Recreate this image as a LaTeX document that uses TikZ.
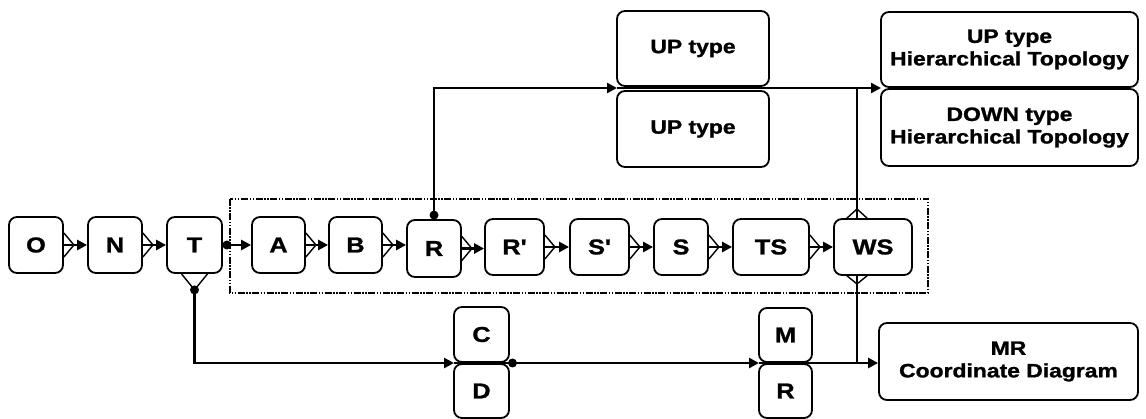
\documentclass[tikz,border=0pt]{standalone}
\usepackage{fontspec}
\setmainfont{Liberation Sans}[Ligatures=TeXOff,FakeStretch=1.18,BoldFeatures={FakeBold=1.2}]
\usetikzlibrary{arrows.meta}
\newcommand\footRt[1]{\draw[foot] (#1.east) ++(0,-12) -- ++(10,12) -- ++(-10,12);}
\begin{document}
\begin{tikzpicture}[x=1pt,y=-1pt,
  box/.style={draw,line width=1.8pt,rounded corners=8pt,fill=white,inner sep=0pt,align=center,
    font=\fontsize{21.5}{24}\selectfont\bfseries},
  wide/.style={box,font=\fontsize{19.4}{22.5}\selectfont\bfseries},
  conn/.style={line width=2.8pt},
  arr/.style={conn,-{Triangle[length=10pt,width=10pt]}},
  foot/.style={line width=1.4pt},
  dotc/.style={circle,fill,inner sep=0pt,minimum size=9pt},
  frame/.style={line width=1.1pt,dash pattern=on 7pt off 1.5pt on 1.5pt off 1.5pt on 1.5pt off 1.5pt}]
\useasboundingbox (0,0) rectangle (1146,419);
\draw[frame] (230,199) rectangle (928,293);
% chain
\node[box,minimum width=54pt,minimum height=56pt] (O) at (36,245) {O};
\node[box,minimum width=54pt,minimum height=56pt] (N) at (115,245) {N};
\node[box,minimum width=55pt,minimum height=56pt] (T) at (194.5,245) {T};
\node[box,minimum width=53pt,minimum height=56pt] (A) at (278.5,245) {A};
\node[box,minimum width=53pt,minimum height=56pt] (B) at (355.5,245) {B};
\node[box,minimum width=54pt,minimum height=57pt] (R) at (434,248.5) {R};
\node[box,minimum width=59pt,minimum height=56pt] (Rp) at (514.5,247) {R'};
\node[box,minimum width=59pt,minimum height=56pt] (Sp) at (599.5,247) {S'};
\node[box,minimum width=54pt,minimum height=56pt] (S) at (681,247) {S};
\node[box,minimum width=76pt,minimum height=56pt] (TS) at (771,247) {TS};
\node[box,minimum width=78pt,minimum height=56pt] (WS) at (873,247) {WS};
% top
\node[wide,minimum width=152pt,minimum height=75pt] (UP1) at (693,48.5) {UP type};
\node[wide,minimum width=152pt,minimum height=76pt] (UP2) at (693,129) {UP type};
\node[wide,minimum width=257pt,minimum height=75pt] (HT1) at (1009.5,49.5) {UP type\\Hierarchical Topology};
\node[wide,minimum width=257pt,minimum height=77pt] (HT2) at (1009.5,127.5) {DOWN type\\Hierarchical Topology};
% bottom
\node[box,minimum width=55pt,minimum height=55pt] (C) at (481.5,334.5) {C};
\node[box,minimum width=55pt,minimum height=54pt] (D) at (481.5,391) {D};
\node[box,minimum width=53pt,minimum height=54pt] (M) at (785.5,335) {M};
\node[box,minimum width=53pt,minimum height=54pt] (Rb) at (785.5,391) {R};
\node[wide,minimum width=259pt,minimum height=77pt] (MR) at (1008.5,361.5) {MR\\Coordinate Diagram};
% junction coordinates
\coordinate (upj) at (617,88);
\coordinate (upr) at (769,88);
\coordinate (htj) at (881,88);
\coordinate (cdj) at (454,363);
\coordinate (cdr) at (509,363);
\coordinate (mrj) at (759,363);
\coordinate (mrr) at (812,363);
\coordinate (wst) at (857,219);
\coordinate (wsb) at (857,275);
% chain connectors
\footRt{O}\draw[arr] (O.east) -- (O.east -| N.west);
\footRt{N}\draw[arr] (N.east) -- (N.east -| T.west);
\draw[arr] (T.east) -- (T.east -| A.west);
\footRt{A}\draw[arr] (A.east) -- (A.east -| B.west);
\footRt{B}\draw[arr] (B.east) -- (B.east -| R.west);
\footRt{R}\draw[arr] (R.east) -- (R.east -| Rp.west);
\footRt{Rp}\draw[arr] (Rp.east) -- (Rp.east -| Sp.west);
\footRt{Sp}\draw[arr] (Sp.east) -- (Sp.east -| S.west);
\footRt{S}\draw[arr] (S.east) -- (S.east -| TS.west);
\footRt{TS}\draw[arr] (TS.east) -- (TS.east -| WS.west);
\node[dotc] (td1) at ([xshift=4pt]T.east) {};
% T down to C/D
\draw[foot] (T.south) ++(-13,0) -- ++(13,16) -- ++(13,-16);
\node[dotc] (td2) at ([yshift=-16pt]T.south) {};
\draw[arr] (td2.center) |- (cdj);
\draw[conn] (cdj) -- (cdr);
\node[dotc] (cdd) at ([xshift=3.5pt]cdr) {};
\draw[arr] (cdd.center) -- (mrj);
\draw[conn] (mrj) -- (mrr);
\draw[arr] (mrr) -- (mrr -| MR.west);
% WS verticals
\draw[foot] (wsb) ++(-11,0) -- ++(11,9) -- ++(11,-9);
\draw[conn] (wsb) -- (wsb |- mrr);
\draw[foot] (wst) ++(-11,0) -- ++(11,-10) -- ++(11,10);
\draw[conn] (wst) -- (wst |- upr);
% R up to UP
\node[dotc] (rd) at ([yshift=4pt]R.north) {};
\draw[arr] (rd.center) |- (upj);
\draw[conn] (upj) -- (upr);
\draw[arr] (upr) -- (htj);
\end{tikzpicture}
\end{document}
